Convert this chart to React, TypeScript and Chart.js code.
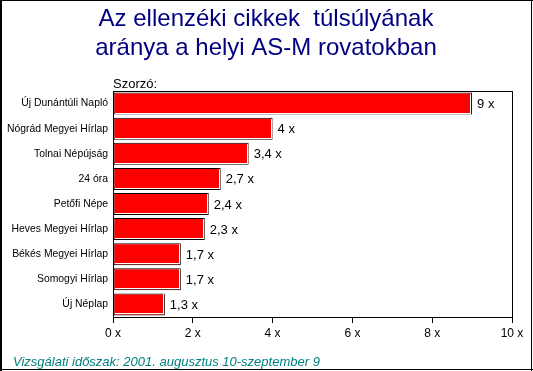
import { useEffect, useRef } from "react";
import { Chart, registerables } from "chart.js";

Chart.register(...registerables);

const titleLines = ["Az ellenzéki cikkek  túlsúlyának", "aránya a helyi AS-M rovatokban"];
const axisCaption = "Szorzó:";
const footnote = "Vizsgálati időszak: 2001. augusztus 10-szeptember 9";
const categories = [
  "Új Dunántúli Napló",
  "Nógrád Megyei Hírlap",
  "Tolnai Népújság",
  "24 óra",
  "Petőfi Népe",
  "Heves Megyei Hírlap",
  "Békés Megyei Hírlap",
  "Somogyi Hírlap",
  "Új Néplap",
];
const values = [9, 4, 3.4, 2.7, 2.4, 2.3, 1.7, 1.7, 1.3];
const xMin = 0;
const xMax = 10;
const xStep = 2;

const FONT = "'Liberation Sans', Arial, sans-serif";
const fmt = (v: number) => String(v).replace(".", ",") + " x";

const decor = {
  id: "decor",
  afterDatasetsDraw(chart: any) {
    const ctx = chart.ctx;
    const meta = chart.getDatasetMeta(0);
    ctx.save();
    ctx.font = `13px ${FONT}`;
    ctx.fillStyle = "#000";
    ctx.textAlign = "left";
    ctx.textBaseline = "middle";
    meta.data.forEach((bar: any, i: number) => {
      const { x, y, base, height } = bar.getProps(["x", "y", "base", "height"], true);
      const top = Math.round(y - height / 2);
      const bottom = Math.round(y + height / 2);
      ctx.fillStyle = "#fff";
      ctx.fillRect(Math.round(x) - 2, top + 1, 1, bottom - top - 2);
      ctx.fillRect(Math.round(base) + 1, bottom - 2, Math.round(x) - Math.round(base) - 2, 1);
      ctx.fillStyle = "#000";
      ctx.fillText(fmt(values[i]), x + 5, y + 1);
    });
    ctx.restore();
  },
  afterDraw(chart: any) {
    const ctx = chart.ctx;
    const a = chart.chartArea;
    ctx.save();
    ctx.fillStyle = "#000";
    ctx.fillRect(0, 0, 2, 371);
    ctx.fillRect(0, 0, 533, 1);
    ctx.fillRect(531, 0, 1, 371);
    ctx.fillRect(0, 369, 533, 1);
    ctx.fillRect(Math.round(a.left), Math.round(a.top), Math.round(a.right - a.left) + 1, 1);
    ctx.fillRect(Math.round(a.right), Math.round(a.top), 1, Math.round(a.bottom - a.top));
    ctx.fillStyle = "#000080";
    ctx.font = `24px ${FONT}`;
    ctx.textAlign = "center";
    ctx.textBaseline = "alphabetic";
    ctx.fillText(titleLines[0], 266, 26);
    ctx.fillText(titleLines[1], 266, 55);
    ctx.fillStyle = "#000";
    ctx.font = `13px ${FONT}`;
    ctx.textAlign = "left";
    ctx.fillText(axisCaption, 113, 88);
    ctx.fillStyle = "#008080";
    ctx.font = `italic 13px ${FONT}`;
    ctx.fillText(footnote, 13, 366);
    ctx.restore();
  },
};

export default function App() {
  const ref = useRef<HTMLCanvasElement>(null);
  useEffect(() => {
    if (!ref.current) return;
    const chart = new Chart(ref.current, {
      type: "bar",
      data: {
        labels: categories,
        datasets: [
          {
            data: values,
            backgroundColor: "#ff0000",
            borderColor: "#000000",
            borderWidth: 1,
            borderSkipped: false,
            barPercentage: 0.876,
            categoryPercentage: 1,
          },
        ],
      },
      options: {
        indexAxis: "y",
        animation: false,
        responsive: false,
        maintainAspectRatio: false,
        devicePixelRatio: 1,
        layout: { padding: { left: 0, right: 21, top: 91, bottom: 14 } },
        plugins: {
          legend: { display: false },
          tooltip: { enabled: false },
          title: { display: false },
        },
        scales: {
          x: {
            type: "linear",
            min: xMin,
            max: xMax,
            afterFit(scale: any) {
              scale.height = 40;
            },
            ticks: {
              stepSize: xStep,
              color: "#000",
              font: { family: FONT, size: 12 },
              padding: 3,
              callback: (v: any) => fmt(Number(v)),
            },
            grid: {
              display: true,
              drawOnChartArea: false,
              drawTicks: true,
              tickLength: 6,
              color: "#000",
            },
            border: { display: true, color: "#000" },
          },
          y: {
            afterFit(scale: any) {
              scale.width = 113;
            },
            ticks: {
              color: "#000",
              font: { family: FONT, size: 10.4 },
              padding: 5,
              autoSkip: false,
            },
            grid: { display: false, drawTicks: false },
            border: { display: true, color: "#000" },
          },
        },
      },
      plugins: [decor],
    });
    return () => chart.destroy();
  }, []);
  return (
    <div style={{ position: "fixed", left: 0, top: 0, width: 533, height: 371, background: "#fff" }}>
      <canvas ref={ref} width={533} height={371} style={{ display: "block", width: 533, height: 371 }} />
    </div>
  );
}
